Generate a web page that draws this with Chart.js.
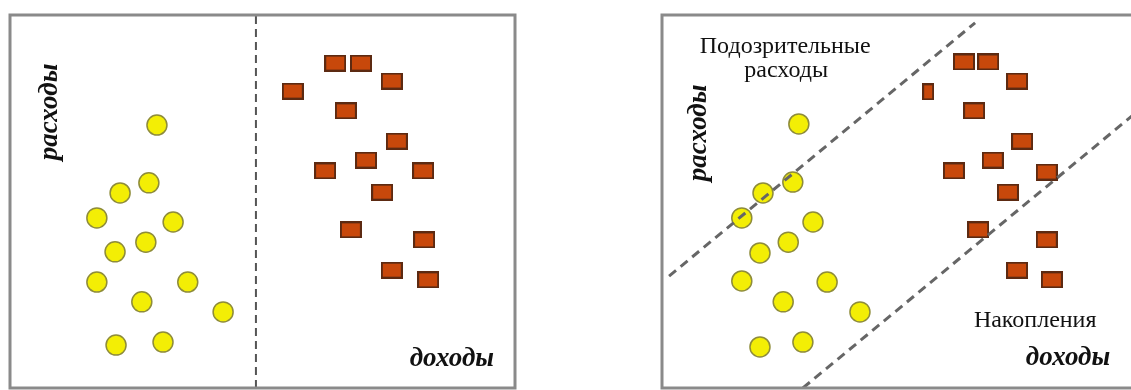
<!DOCTYPE html>
<html>
<head>
<meta charset="utf-8">
<script src="https://cdn.jsdelivr.net/npm/chart.js@4"></script>
<style>
  html, body { margin: 0; padding: 0; background: #fff; width: 1131px; height: 390px; overflow: hidden; position: relative; }
  canvas { position: absolute; }
  #left { left: 5px; top: 10px; }
  #right { left: 657px; top: 10px; }
</style>
</head>
<body>
<canvas id="left" width="515" height="383"></canvas>
<canvas id="right" width="515" height="383"></canvas>
<script>
// Left panel: circles (spenders) and squares (savers), income on x, expenses on y (0-100 units)
const leftCirclesX = [29.1, 27.5, 21.8, 17.2, 32.3, 26.9, 20.8, 17.2, 35.2, 26.1, 42.2, 21.0, 30.3];
const leftCirclesY = [70.5, 55.0, 52.3, 45.6, 44.5, 39.1, 36.5, 28.4, 28.4, 23.1, 20.4, 11.5, 12.3];
const leftSquaresX = [64.4, 69.5, 75.6, 56.0, 66.5, 76.6, 70.5, 62.4, 81.8, 73.7, 67.5, 82.0, 75.6, 82.8];
const leftSquaresY = [87.1, 87.1, 82.3, 79.6, 74.3, 66.2, 61.1, 58.2, 58.2, 52.5, 42.4, 39.7, 31.6, 29.0];
const dividerX = 48.7;

// Right panel
const rightCirclesX = [27.1, 25.9, 20.0, 15.8, 29.9, 25.0, 19.4, 15.8, 32.7, 24.0, 39.2, 19.4, 27.9];
const rightCirclesY = [70.8, 55.2, 52.3, 45.6, 44.5, 39.1, 36.2, 28.7, 28.4, 23.1, 20.4, 11.0, 12.3];
const rightSquaresX = [59.8, 64.6, 70.3, 52.7, 61.8, 71.3, 65.5, 57.8, 76.2, 68.5, 62.6, 76.2, 70.3, 77.2];
const rightSquaresY = [87.4, 87.4, 82.3, 79.4, 74.3, 66.2, 61.1, 58.2, 57.9, 52.5, 42.4, 39.7, 31.6, 29.0];
const suspiciousLineX = [1.4, 62.0];
const suspiciousLineY = [30.0, 97.9];
const savingsLineX = [27.9, 100];
const savingsLineY = [0, 80.7];

const toPoints = (xs, ys) => xs.map((x, i) => ({ x: x, y: ys[i] }));

// Brick-like square marker
function makeBox(w, h) {
    const c = document.createElement('canvas');
    c.width = w; c.height = h;
    const g = c.getContext('2d');
    g.fillStyle = '#5c2a12';
    g.fillRect(0, 0, w, h);
    g.fillStyle = '#c8480b';
    g.fillRect(2, 2, w - 4, h - 4);
    return c;
}
const boxFull = makeBox(22, 17);
const boxNarrow = makeBox(12, 17);

const circleStyle = {
    type: 'scatter',
    pointStyle: 'circle',
    pointRadius: 10,
    backgroundColor: '#f3ee05',
    borderColor: '#8e8c3a',
    borderWidth: 1.5
};

// Box border + free text labels
const textLabels = {
    id: 'textLabels',
    afterDraw(chart, args, opts) {
        const { ctx, chartArea: a, scales } = chart;
        ctx.save();
        ctx.strokeStyle = '#8a8a8a';
        ctx.lineWidth = 3;
        ctx.strokeRect(a.left, a.top, a.right - a.left, a.bottom - a.top);
        ctx.fillStyle = '#111';
        (opts.items || []).forEach(item => {
            ctx.save();
            ctx.translate(scales.x.getPixelForValue(item.x), scales.y.getPixelForValue(item.y));
            if (item.rotate) ctx.rotate(item.rotate);
            ctx.font = item.font;
            ctx.textAlign = 'center';
            ctx.textBaseline = item.baseline || 'alphabetic';
            ctx.fillText(item.text, 0, 0);
            ctx.restore();
        });
        ctx.restore();
    }
};

const axisFont = 'italic bold 27px "Liberation Serif", "DejaVu Serif", serif';
const plainFont = '24px "Liberation Serif", "DejaVu Serif", serif';

function baseOptions(items) {
    return {
        responsive: false,
        animation: false,
        events: [],
        layout: { padding: 5, autoPadding: false },
        scales: {
            x: { type: 'linear', min: 0, max: 100, display: false },
            y: { type: 'linear', min: 0, max: 100, display: false }
        },
        plugins: {
            legend: { display: false },
            tooltip: { enabled: false },
            textLabels: { items: items }
        }
    };
}

new Chart(document.getElementById('left'), {
    type: 'scatter',
    data: {
        datasets: [
            {
                type: 'line',
                data: [{ x: dividerX, y: 0 }, { x: dividerX, y: 100 }],
                borderColor: '#555',
                borderWidth: 2,
                borderDash: [8, 5],
                pointRadius: 0
            },
            Object.assign({ data: toPoints(leftCirclesX, leftCirclesY) }, circleStyle),
            {
                type: 'scatter',
                data: toPoints(leftSquaresX, leftSquaresY),
                pointStyle: boxFull,
                pointRadius: 10
            }
        ]
    },
    options: baseOptions([
        { text: 'расходы', x: 7.9, y: 74.0, font: axisFont, rotate: -Math.PI / 2, baseline: 'middle' },
        { text: 'доходы', x: 87.5, y: 5.9, font: axisFont }
    ]),
    plugins: [textLabels]
});

new Chart(document.getElementById('right'), {
    type: 'scatter',
    data: {
        datasets: [
            {
                type: 'line',
                data: toPoints(suspiciousLineX, suspiciousLineY),
                borderColor: '#666',
                borderWidth: 3,
                borderDash: [9, 6],
                pointRadius: 0
            },
            {
                type: 'line',
                data: toPoints(savingsLineX, savingsLineY),
                borderColor: '#666',
                borderWidth: 3,
                borderDash: [9, 6],
                pointRadius: 0
            },
            Object.assign({ data: toPoints(rightCirclesX, rightCirclesY) }, circleStyle),
            {
                type: 'scatter',
                data: toPoints(rightSquaresX, rightSquaresY),
                pointStyle: ctx => (ctx.dataIndex === 3 ? boxNarrow : boxFull),
                pointRadius: 10
            }
        ]
    },
    options: baseOptions([
        { text: 'Подозрительные', x: 24.4, y: 89.8, font: plainFont },
        { text: 'расходы', x: 24.6, y: 83.4, font: plainFont },
        { text: 'расходы', x: 7.3, y: 68.4, font: axisFont, rotate: -Math.PI / 2, baseline: 'middle' },
        { text: 'Накопления', x: 73.9, y: 16.4, font: plainFont },
        { text: 'доходы', x: 80.4, y: 6.2, font: axisFont }
    ]),
    plugins: [textLabels]
});
</script>
</body>
</html>
